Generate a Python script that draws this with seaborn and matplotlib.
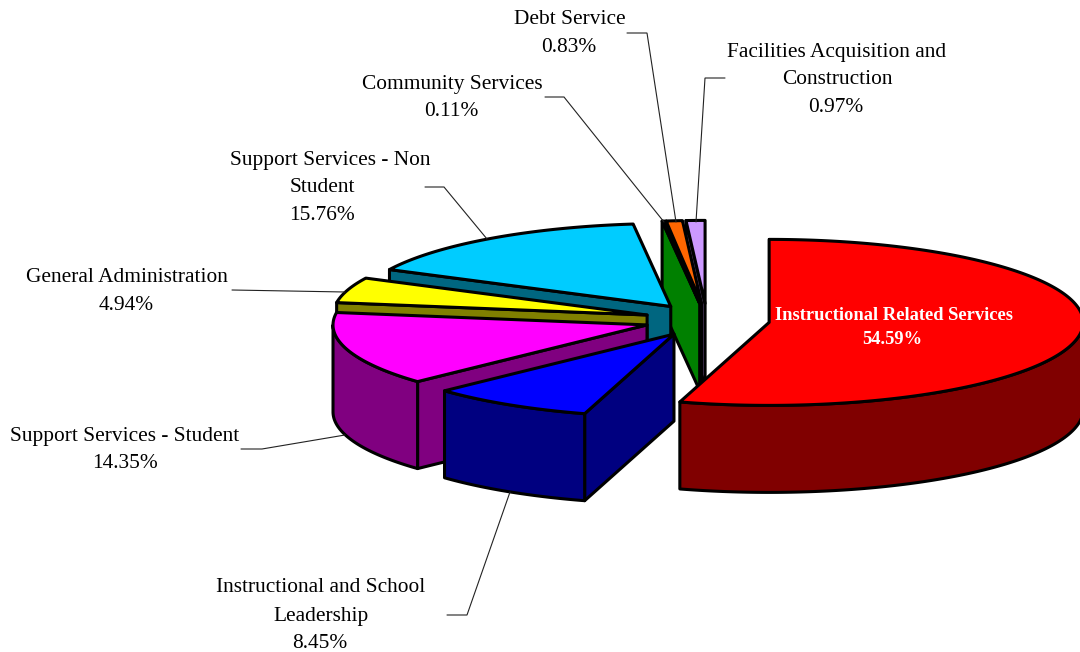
import numpy as np
import matplotlib
matplotlib.use("Agg")
import matplotlib.pyplot as plt
from matplotlib.patches import Polygon
import seaborn as sns

# Share of spending by function, percent
categories = [
    "Instructional Related Services",
    "Instructional and School Leadership",
    "Support Services - Student",
    "General Administration",
    "Support Services - Non Student",
    "Community Services",
    "Debt Service",
    "Facilities Acquisition and Construction",
]
shares = [54.59, 8.45, 14.35, 4.94, 15.76, 0.11, 0.83, 0.97]
top_colors = ["#ff0000", "#0000ff", "#ff00ff", "#ffff00",
              "#00ccff", "#00ff00", "#ff6600", "#cc99ff"]

# Wrapped name lines for each slice, with the centre x of every line
name_lines = [
    ["Instructional Related Services"],
    ["Instructional and School", "Leadership"],
    ["Support Services - Student"],
    ["General Administration"],
    ["Support Services - Non", "Student"],
    ["Community Services"],
    ["Debt Service"],
    ["Facilities Acquisition and", "Construction"],
]
label_x = [[894, 892], [321, 321, 320], [125, 125], [127, 126],
           [330, 322, 322], [452, 451], [570, 569], [837, 837, 836]]
label_y = [315, 588, 436, 277, 160, 84, 20, 52]

# Elbowed leader lines from the labels to their slices
leaders = [
    None,
    [(447, 615), (467, 615), (510, 492)],
    [(241, 449), (262, 449), (345, 435)],
    [(232, 290), (345, 292)],
    [(425, 187), (444, 187), (487, 239)],
    [(545, 97), (564, 97), (664, 222)],
    [(627, 33), (647, 33), (676, 222)],
    [(725, 78), (705, 78), (696, 222)],
]

# Projected pie geometry, in figure pixels
CX, CY = 707, 320
RX, RY = 314, 83
DEPTH = 87
EXPLODE = 0.2
LW = 2.2

sns.set_theme(style="white")
plt.rcParams["font.family"] = ["Liberation Serif", "DejaVu Serif"]
palette = sns.color_palette(top_colors)


def rim(center, angles):
    """Points on the top ellipse, with angles clockwise from twelve o'clock."""
    return np.column_stack([center[0] + RX * np.sin(angles),
                            center[1] - RY * np.cos(angles)])


def draw_slice(ax, start, end, color):
    mid = (start + end) / 2
    center = (CX + EXPLODE * RX * np.sin(mid), CY - EXPLODE * RY * np.cos(mid))
    shade = tuple(c * 0.5 for c in color)
    drop = np.array([0, DEPTH])
    style = dict(edgecolor="black", linewidth=LW, joinstyle="round")

    # Cut face on the leading edge, turned towards the viewer past twelve o'clock
    if np.cos(start) > 0 or start > np.pi:
        p = rim(center, np.array([start]))[0]
        c = np.array(center)
        ax.add_patch(Polygon([c, p, p + drop, c + drop], facecolor=shade, **style))

    # Curved outer wall along the front half of the rim
    lo, hi = max(start, np.pi / 2), min(end, 3 * np.pi / 2)
    if lo < hi:
        arc = rim(center, np.linspace(lo, hi, 120))
        ax.add_patch(Polygon(np.vstack([arc, (arc + drop)[::-1]]),
                             facecolor=shade, **style))

    # Top face
    arc = rim(center, np.linspace(start, end, 240))
    ax.add_patch(Polygon(np.vstack([[center], arc]), facecolor=color, **style))


fig = plt.figure(figsize=(10.8, 6.52), dpi=100)
ax = fig.add_axes([0, 0, 1, 1])
ax.set_xlim(0, 1080)
ax.set_ylim(652, 0)
ax.axis("off")

edges = np.radians(np.concatenate([[0], np.cumsum(shares)]) / sum(shares) * 360)

# Painted back to front so nearer slices overlap the farther ones
for i in [7, 6, 5, 4, 3, 2, 1, 0]:
    draw_slice(ax, edges[i], edges[i + 1], palette[i])

for path in leaders:
    if path:
        xs, ys = zip(*path)
        ax.plot(xs, ys, color="#222222", linewidth=0.8, solid_joinstyle="miter")

for i, (name, share) in enumerate(zip(name_lines, shares)):
    rows = name + [f"{share:.2f}%"]
    featured = i == 0
    step = 25 if featured else 28
    for j, row in enumerate(rows):
        ax.text(label_x[i][j], label_y[i] + j * step, row,
                ha="center", va="center",
                fontsize=13.3 if featured else 15.4,
                fontweight="bold" if featured else "normal",
                color="white" if featured else "black")

fig.savefig("out.png", dpi=100)
